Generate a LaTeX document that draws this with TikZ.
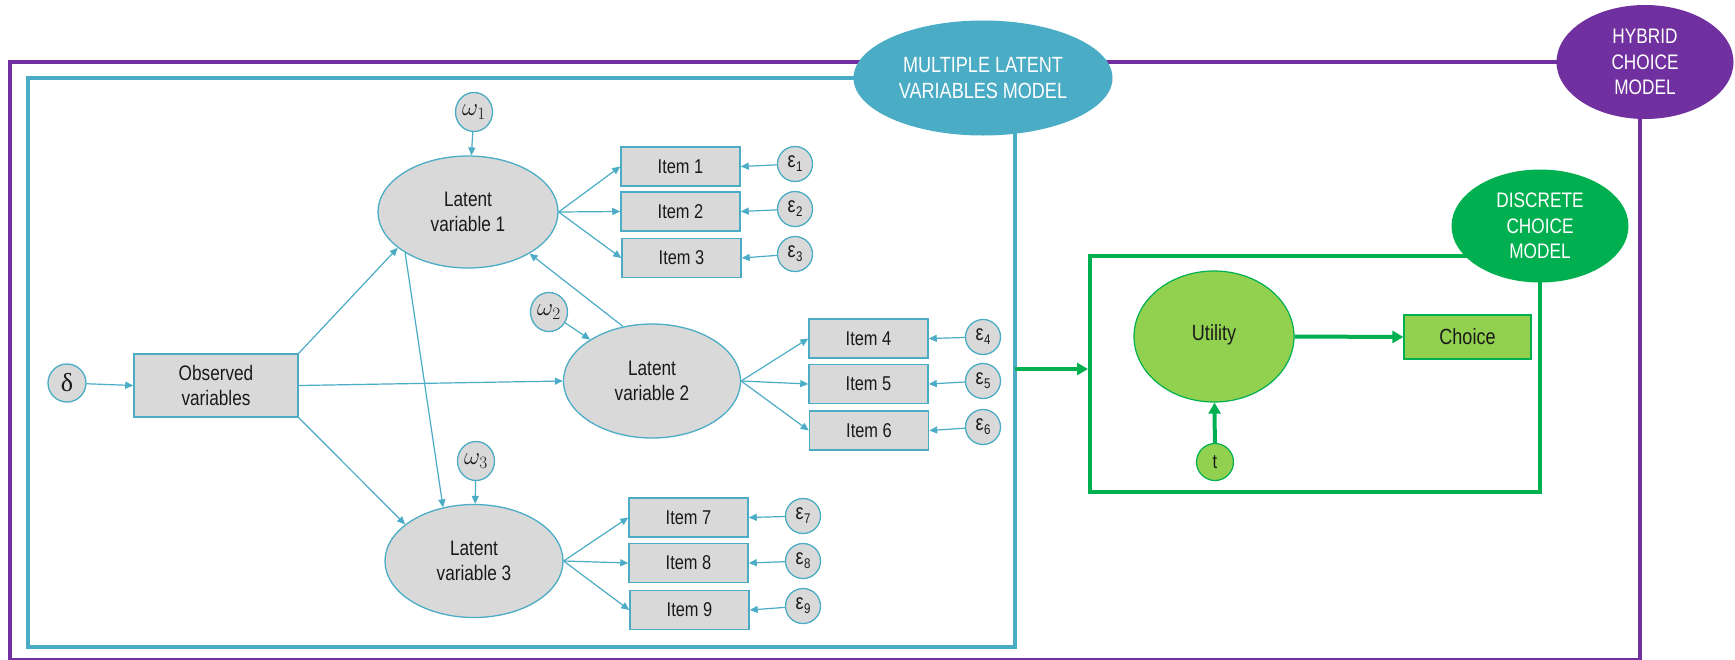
\documentclass[tikz,border=0pt]{standalone}
\usepackage{fontspec}
\setmainfont[FakeStretch=0.82]{Liberation Sans}
\newfontfamily\grkserif{Liberation Serif}
\usetikzlibrary{arrows.meta,shapes.geometric}
\definecolor{tealc}{HTML}{4BACC6}
\definecolor{purp}{HTML}{7030A0}
\definecolor{dgreen}{HTML}{00B050}
\definecolor{lgreen}{HTML}{92D050}
\definecolor{gfill}{HTML}{D9D9D9}
\definecolor{txt}{HTML}{1A1A1A}
\newcommand{\epsl}[1]{{\fontsize{22}{22}\selectfont ε}\kern0.5pt\raisebox{-4pt}{\fontsize{14}{14}\selectfont #1}}
\newcommand{\omg}[1]{{\fontsize{24}{24}\selectfont$\omega_{#1}$}}
\begin{document}
\begin{tikzpicture}[x=1pt,y=-1pt,
  latent/.style={ellipse, draw=tealc, line width=1.3pt, fill=gfill, inner sep=0pt,
    minimum width=180pt, minimum height=112pt, align=center,
    font=\fontsize{21}{25.5}\selectfont, text=txt},
  itembox/.style={rectangle, draw=tealc, line width=1.5pt, fill=gfill,
    minimum width=119pt, minimum height=39pt, inner sep=0pt,
    font=\fontsize{20}{24}\selectfont, text=txt},
  errc/.style={ellipse, draw=tealc, line width=1.3pt, fill=gfill,
    minimum width=35pt, minimum height=35pt, inner sep=0pt, text=txt},
  distc/.style={ellipse, draw=tealc, line width=1.3pt, fill=gfill,
    minimum width=37pt, minimum height=39pt, inner sep=0pt, text=txt},
  tarrow/.style={draw=tealc, line width=1.2pt, -{Triangle[length=8pt,width=7pt]}},
  garrow/.style={draw=dgreen, line width=4pt, -{Triangle[length=11pt,width=12pt]}},
  tagell/.style={ellipse, inner sep=0pt, text=white, align=center,
    font=\fontsize{21}{25.7}\selectfont, minimum width=177pt, minimum height=114pt}
]
\useasboundingbox[fill=white] (0,0) rectangle (1735,659);

% frames
\draw[purp, line width=4pt] (9.5,62) rectangle (1640,660);
\draw[tealc, line width=4.5pt] (28,78) rectangle (1015,647);
\draw[dgreen, line width=4pt] (1090,256) rectangle (1540,492);

% frame labels
\node[tagell, fill=tealc, minimum width=259pt, minimum height=115pt,
  font=\fontsize{22}{26}\selectfont] (mlv) at (983,78) {MULTIPLE LATENT\\VARIABLES MODEL};
\node[tagell, fill=purp] (hcm) at (1645,62) {HYBRID\\CHOICE\\MODEL};
\node[tagell, fill=dgreen, minimum height=113pt] (dcm) at (1540,226) {DISCRETE\\CHOICE\\MODEL};

% latent variable model
\node[distc, minimum width=38pt, minimum height=38pt] (delta) at (67,383) {\fontsize{26}{26}\selectfont\grkserif δ};
\node[rectangle, draw=tealc, line width=1.5pt, fill=gfill, minimum width=164pt, minimum height=63pt,
  inner sep=0pt, align=center, font=\fontsize{21}{25}\selectfont, text=txt] (obs) at (216,385.5) {Observed\\variables};

\node[latent] (lv1) at (468,212) {Latent\\variable 1};
\node[latent, minimum width=177pt, minimum height=114pt] (lv2) at (652,381) {Latent\\variable 2};
\node[latent, minimum width=178pt, minimum height=113pt] (lv3) at (474,561) {Latent\\variable 3};

\node[distc] (w1) at (474,112) {\omg{1}};
\node[distc] (w2) at (549,312) {\omg{2}};
\node[distc] (w3) at (476,461) {\omg{3}};

\node[itembox] (i1) at (680.5,166.5) {Item 1};
\node[itembox] (i2) at (680.5,211.5) {Item 2};
\node[itembox] (i3) at (681.5,258) {Item 3};
\node[itembox] (i4) at (868.5,338.5) {Item 4};
\node[itembox] (i5) at (868.5,384) {Item 5};
\node[itembox] (i6) at (869,430.5) {Item 6};
\node[itembox] (i7) at (688.5,517.5) {Item 7};
\node[itembox] (i8) at (688.5,563) {Item 8};
\node[itembox] (i9) at (689.5,610) {Item 9};

\node[errc] (e1) at (795,164) {\epsl{1}};
\node[errc] (e2) at (795,209) {\epsl{2}};
\node[errc] (e3) at (795,254) {\epsl{3}};
\node[errc] (e4) at (983,337) {\epsl{4}};
\node[errc] (e5) at (983,381) {\epsl{5}};
\node[errc] (e6) at (983,427) {\epsl{6}};
\node[errc] (e7) at (803,516) {\epsl{7}};
\node[errc] (e8) at (803,561) {\epsl{8}};
\node[errc] (e9) at (803,606) {\epsl{9}};

% connectors
\draw[tarrow] (delta) -- (obs.west);
\draw[tarrow] (obs.north east) -- (lv1.207);
\draw[tarrow] (obs.east) -- (lv2.west);
\draw[tarrow] (obs.south east) -- (lv3.152);
\draw[tarrow] (lv1.213) -- (lv3.120);
\draw[tarrow] (lv2.118) -- (lv1.326);
\draw[tarrow] (w1) -- (lv1);
\draw[tarrow] (w2) -- (lv2);
\draw[tarrow] (w3) -- (lv3);
\foreach \i in {1,2,3} {\draw[tarrow] (lv1.east) -- (i\i.west);}
\foreach \i in {4,5,6} {\draw[tarrow] (lv2.east) -- (i\i.west);}
\foreach \i in {7,8,9} {\draw[tarrow] (lv3.east) -- (i\i.west);}
\foreach \i in {1,...,9} {\draw[tarrow] (e\i) -- (i\i.east);}

% discrete choice model
\node[ellipse, draw=dgreen, line width=1.2pt, fill=lgreen, minimum width=160pt, minimum height=131pt,
  inner sep=0pt, font=\fontsize{22}{26}\selectfont, text=txt] (util) at (1214,336.5) {\raisebox{8pt}{Utility}};
\node[rectangle, draw=dgreen, line width=1.2pt, fill=lgreen, minimum width=127pt, minimum height=44pt,
  inner sep=0pt, font=\fontsize{22}{26}\selectfont, text=txt] (choice) at (1467.5,337) {Choice};
\node[ellipse, draw=dgreen, line width=1.2pt, fill=lgreen, minimum width=37pt, minimum height=37pt,
  inner sep=0pt, font=\fontsize{20}{24}\selectfont, text=txt] (t) at (1215,462) {t};

\coordinate (tealR) at (1015,369);
\coordinate (greenL) at (1088,369);
\draw[garrow] (tealR) -- (greenL);
\draw[garrow] (util.east) -- (choice.west);
\draw[garrow] (t) -- (util);
\end{tikzpicture}
\end{document}
